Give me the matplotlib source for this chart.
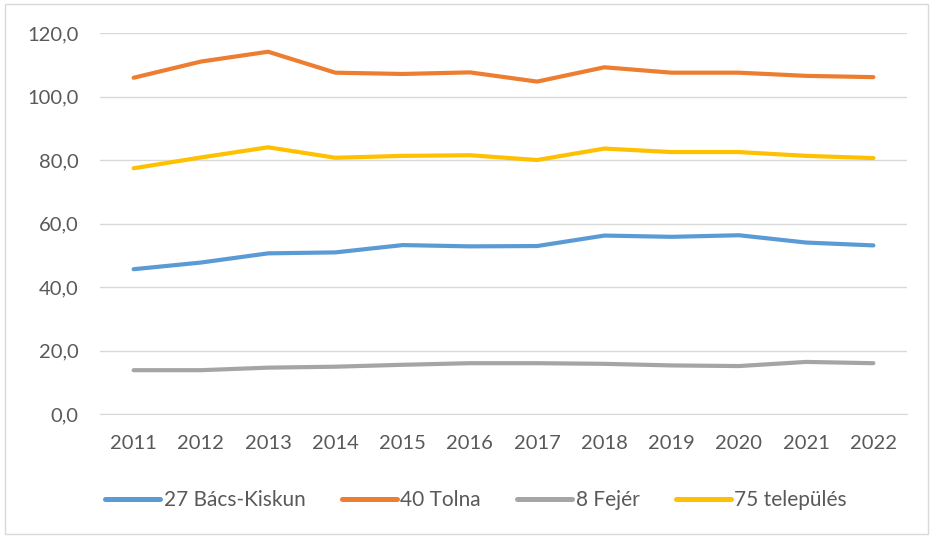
import matplotlib
matplotlib.use("Agg")
import matplotlib.pyplot as plt
from matplotlib.patches import Rectangle

years = ["2011", "2012", "2013", "2014", "2015", "2016", "2017", "2018", "2019", "2020", "2021", "2022"]
bacs_kiskun = [45.6, 47.7, 50.6, 50.9, 53.2, 52.8, 52.9, 56.2, 55.8, 56.3, 54.0, 53.1]
tolna = [105.9, 111.0, 114.1, 107.5, 107.1, 107.6, 104.7, 109.2, 107.5, 107.5, 106.5, 106.1]
fejer = [13.8, 13.8, 14.6, 14.9, 15.5, 16.0, 16.0, 15.8, 15.3, 15.1, 16.4, 16.0]
telepules = [77.4, 80.8, 84.0, 80.7, 81.3, 81.5, 80.0, 83.6, 82.5, 82.5, 81.3, 80.6]
series_names = ["27 Bács-Kiskun", "40 Tolna", "8 Fejér", "75 település"]
colors = ["#5b9bd5", "#ed7d31", "#a5a5a5", "#ffc000"]
yticks = [0, 20, 40, 60, 80, 100, 120]

W, H = 931, 536
fig = plt.figure(figsize=(W / 100, H / 100), dpi=100)
plt.rcParams['font.family'] = ['Lato', 'DejaVu Sans']
FS = 14.5

ax = fig.add_axes([100 / W, 1 - 414 / H, (907 - 100) / W, (414 - 33) / H])
x = list(range(len(years)))
for vals, name, c in zip([bacs_kiskun, tolna, fejer, telepules], series_names, colors):
    ax.plot(x, vals, color=c, lw=3.0, solid_capstyle='round', solid_joinstyle='round', label=name)

ax.set_xlim(-0.5, len(years) - 0.5)
ax.set_ylim(0, 120)
ax.set_yticks(yticks)
ax.set_yticklabels([f"{v:.1f}".replace(".", ",") for v in yticks])
ax.set_xticks(x)
ax.set_xticklabels(years)
ax.grid(axis='y', color='#d9d9d9', lw=1.0)
ax.set_axisbelow(True)
for s in ['top', 'right', 'left']:
    ax.spines[s].set_visible(False)
ax.spines['bottom'].set_color('#d9d9d9')
ax.tick_params(axis='both', length=0, colors='#595959', labelsize=FS)
ax.tick_params(axis='y', pad=15.5)
ax.tick_params(axis='x', pad=15)

leg = fig.legend(loc='center', bbox_to_anchor=(476 / W, 1 - 500 / H), ncol=4, frameon=False,
                 fontsize=15, handlelength=2.65, handletextpad=0.15, columnspacing=1.75)
for t in leg.get_texts():
    t.set_color('#595959')
for h in leg.get_lines():
    h.set_linewidth(3.6)
    h.set_solid_capstyle('round')

fig.patches.append(Rectangle((5 / W, 2 / H), 1 - 8 / W, 1 - 6 / H, transform=fig.transFigure,
                             fill=False, edgecolor='#d9d9d9', lw=1.0))

fig.savefig("out.png", dpi=100)
